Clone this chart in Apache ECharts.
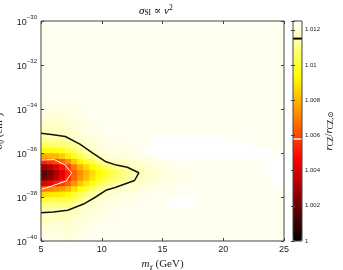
<!DOCTYPE html>
<html><head><meta charset="utf-8">
<script src="https://cdn.jsdelivr.net/npm/echarts@6/dist/echarts.min.js"></script>
<style>html,body{margin:0;padding:0;background:#fff}#c{width:343px;height:270px}</style>
</head><body><div id="c"></div>
<script>
// cell centres of the shaded map (m in GeV, log10 sigma)
const mCenters = [5.25,5.75,6.25,6.75,7.25,7.75,8.25,8.75,9.25,9.75,10.25,10.75,11.25,11.75,12.25,12.75,13.25,13.75,14.25,14.75,15.25,15.75,16.25,16.75,17.25,17.75,18.25,18.75,19.25,19.75,20.25,20.75,21.25,21.75,22.25,22.75,23.25,23.75,24.25,24.75];
const logSigmaCenters = [-39.875,-39.625,-39.375,-39.125,-38.875,-38.625,-38.375,-38.125,-37.875,-37.625,-37.375,-37.125,-36.875,-36.625,-36.375,-36.125,-35.875,-35.625,-35.375,-35.125,-34.875,-34.625,-34.375,-34.125,-33.875,-33.625,-33.375,-33.125,-32.875,-32.625,-32.375,-32.125,-31.875,-31.625,-31.375,-31.125,-30.875,-30.625,-30.375,-30.125];
// level of the flat pale area
const backgroundLevel = 1.0123;
// rows of the dark blob: [log10 sigma, values from m = 5.25 upward]
const blobRows = [
 [-33.875,[1.0122,1.0122,1.0122,1.0122,1.0122,1.0122]],
 [-34.125,[1.0121,1.0121,1.0121,1.0121,1.0122,1.0122,1.0122]],
 [-34.375,[1.0120,1.0120,1.0120,1.0120,1.0121,1.0121,1.0122]],
 [-34.625,[1.0119,1.0119,1.0119,1.0119,1.0120,1.0121,1.0121,1.0122,1.0122]],
 [-34.875,[1.0117,1.0118,1.0118,1.0118,1.0119,1.0120,1.0121,1.0122,1.0122,1.0122]],
 [-35.125,[1.0115,1.0116,1.0116,1.0116,1.0117,1.0119,1.0120,1.0121,1.0122,1.0122]],
 [-35.375,[1.0112,1.0113,1.0113,1.0113,1.0115,1.0117,1.0119,1.0120,1.0121,1.0122,1.0122,1.0122]],
 [-35.625,[1.0106,1.0107,1.0107,1.0108,1.0110,1.0113,1.0116,1.0118,1.0120,1.0121,1.0122,1.0122,1.0122,1.0122]],
 [-35.875,[1.0094,1.0096,1.0096,1.0098,1.0102,1.0107,1.0111,1.0115,1.0117,1.0120,1.0121,1.0121,1.0122,1.0122,1.0122,1.0122]],
 [-36.125,[1.0077,1.0080,1.0081,1.0085,1.0091,1.0097,1.0103,1.0108,1.0112,1.0116,1.0119,1.0120,1.0121,1.0121,1.0121,1.0122,1.0122,1.0122]],
 [-36.375,[1.0053,1.0057,1.0060,1.0066,1.0074,1.0084,1.0092,1.0099,1.0104,1.0109,1.0114,1.0116,1.0117,1.0118,1.0119,1.0120,1.0120,1.0121,1.0122,1.0122]],
 [-36.625,[1.0028,1.0033,1.0041,1.0050,1.0059,1.0070,1.0079,1.0087,1.0093,1.0099,1.0105,1.0108,1.0111,1.0113,1.0115,1.0117,1.0118,1.0119,1.0120,1.0121,1.0122,1.0122]],
 [-36.875,[1.0017,1.0023,1.0032,1.0043,1.0053,1.0064,1.0073,1.0080,1.0087,1.0093,1.0098,1.0102,1.0106,1.0109,1.0112,1.0114,1.0116,1.0118,1.0119,1.0120,1.0121,1.0121,1.0122,1.0122]],
 [-37.125,[1.0021,1.0027,1.0035,1.0045,1.0055,1.0065,1.0074,1.0082,1.0089,1.0095,1.0100,1.0104,1.0107,1.0110,1.0113,1.0115,1.0117,1.0118,1.0119,1.0120,1.0121,1.0121,1.0122,1.0122]],
 [-37.375,[1.0041,1.0045,1.0051,1.0058,1.0065,1.0074,1.0083,1.0090,1.0096,1.0102,1.0107,1.0110,1.0113,1.0115,1.0117,1.0118,1.0119,1.0120,1.0121,1.0121,1.0122,1.0122]],
 [-37.625,[1.0068,1.0071,1.0073,1.0077,1.0080,1.0088,1.0095,1.0101,1.0106,1.0110,1.0114,1.0116,1.0118,1.0119,1.0120,1.0120,1.0121,1.0121,1.0122,1.0122]],
 [-37.875,[1.0087,1.0089,1.0090,1.0091,1.0093,1.0099,1.0104,1.0109,1.0113,1.0116,1.0118,1.0119,1.0120,1.0121,1.0121,1.0122,1.0122,1.0122]],
 [-38.125,[1.0101,1.0103,1.0103,1.0103,1.0103,1.0107,1.0111,1.0115,1.0117,1.0119,1.0120,1.0121,1.0122,1.0122,1.0122,1.0122]],
 [-38.375,[1.0110,1.0111,1.0110,1.0110,1.0110,1.0113,1.0116,1.0118,1.0119,1.0121,1.0121,1.0122,1.0122,1.0122]],
 [-38.625,[1.0114,1.0115,1.0115,1.0115,1.0115,1.0116,1.0118,1.0120,1.0120,1.0121,1.0122,1.0122,1.0122]],
 [-38.875,[1.0117,1.0117,1.0117,1.0117,1.0117,1.0118,1.0120,1.0121,1.0121,1.0122,1.0122,1.0122]],
 [-39.125,[1.0118,1.0119,1.0119,1.0119,1.0119,1.0120,1.0120,1.0121,1.0122,1.0122]],
 [-39.375,[1.0120,1.0120,1.0120,1.0120,1.0120,1.0120,1.0121,1.0122,1.0122]],
 [-39.625,[1.0121,1.0121,1.0121,1.0121,1.0120,1.0121,1.0122,1.0122]],
 [-39.875,[1.0122,1.0122,1.0122,1.0121,1.0121,1.0122,1.0122]]
];
// saturated (white) patches: [log10 sigma row, first m, last m]
const whiteLevel = 1.0125;
const whiteCells = [
 [-35.375,14.25,20.25],[-35.625,14.25,22.25],[-35.875,13.75,23.75],[-36.125,14.75,24.75],
 [-36.375,23.25,24.75],[-36.625,23.75,24.75],[-36.875,23.75,24.75],[-37.125,24.25,24.75],
 [-37.375,24.25,24.75],[-38.125,15.75,17.75],[-38.375,15.75,17.25]
];
// contour lines [m, log10 sigma]
const blackContour = [[5,-35.1],[6,-35.17],[7,-35.25],[8.2,-35.6],[9.2,-35.98],[10.35,-36.4],[11.2,-36.55],[12.1,-36.65],[13.05,-36.9],[12.7,-37.25],[11.1,-37.57],[10.4,-37.68],[9.5,-38.0],[8.5,-38.32],[7.2,-38.6],[6,-38.68],[5,-38.72]];
const whiteContour = [[5,-36.32],[6.1,-36.3],[7,-36.55],[7.52,-36.91],[7.08,-37.27],[6,-37.48],[5,-37.66]];
const blackLevel = 1.0115, whiteContourLevel = 1.0058;
const xTicks = [5,10,15,20,25];
const yTickExponents = [-40,-38,-36,-34,-32,-30];
const colorbarTicks = [1,1.002,1.004,1.006,1.008,1.01,1.012];
const hotColors = ['#000000','#550000','#aa0000','#ff0000','#ff5500','#ffaa00','#ffff00','#ffff80','#ffffff'];

const grid = logSigmaCenters.map(() => mCenters.map(() => backgroundLevel));
blobRows.forEach(([L, vals]) => { const i = logSigmaCenters.indexOf(L); vals.forEach((v, j) => { grid[i][j] = v; }); });
whiteCells.forEach(([L, a, b]) => { const i = logSigmaCenters.indexOf(L); mCenters.forEach((m, j) => { if (m >= a && m <= b) grid[i][j] = whiteLevel; }); });
const heatData = [];
grid.forEach((row, i) => row.forEach((v, j) => heatData.push([j, i, v])));

const SANS = 'Liberation Sans, Arial, sans-serif';
const SERIF = 'Liberation Serif, DejaVu Serif, serif';
const axisCol = '#444';
const mathRich = {
  i: {fontFamily: SERIF, fontStyle: 'italic', fontSize: 11, color: '#222'},
  n: {fontFamily: SERIF, fontSize: 11, color: '#222'},
  sub: {fontFamily: SERIF, fontSize: 7.5, color: '#222', padding: [5, 0, 0, 0]},
  sup: {fontFamily: SERIF, fontSize: 7.5, color: '#222', padding: [0, 0, 6, 0]}
};

const chart = echarts.init(document.getElementById('c'), null, {renderer: 'canvas'});
chart.setOption({
  animation: false,
  backgroundColor: '#fff',
  grid: [
    {left: 41, top: 21, width: 243, height: 220, outerBoundsMode: 'none', containLabel: false,
     show: true, borderColor: axisCol, borderWidth: 1, backgroundColor: 'transparent', z: 10},
    {left: 293, top: 21, width: 9, height: 220, outerBoundsMode: 'none', containLabel: false,
     show: true, borderColor: axisCol, borderWidth: 1, backgroundColor: 'transparent', z: 10}
  ],
  xAxis: [
    {type: 'value', gridIndex: 0, position: 'bottom', min: 5, max: 25, interval: 5, z: 10,
     axisLine: {show: false}, splitLine: {show: false},
     axisTick: {show: true, inside: true, length: 3, lineStyle: {color: axisCol}},
     axisLabel: {fontFamily: SANS, fontSize: 9, color: '#222', margin: 4, formatter: v => xTicks.includes(v) ? String(v) : ''},
     name: '{i|m}{sub|χ}{n| (GeV)}', nameLocation: 'middle', nameGap: 15,
     nameTextStyle: {rich: mathRich}},
    {type: 'value', gridIndex: 0, position: 'top', min: 5, max: 25, interval: 5, z: 10,
     axisLine: {show: false}, splitLine: {show: false}, axisLabel: {show: false},
     axisTick: {show: true, inside: true, length: 3, lineStyle: {color: axisCol}}},
    {type: 'category', gridIndex: 0, position: 'bottom', data: mCenters, show: false},
    {type: 'value', gridIndex: 1, min: 0, max: 1, show: false}
  ],
  yAxis: [
    {type: 'value', gridIndex: 0, position: 'left', min: -40, max: -30, interval: 2, z: 10,
     axisLine: {show: false}, splitLine: {show: false},
     axisTick: {show: true, inside: true, length: 3, lineStyle: {color: axisCol}},
     axisLabel: {margin: 4, formatter: v => yTickExponents.includes(v) ? '{b|10}{s|' + (v < 0 ? '\u2212' : '') + Math.abs(v) + '}' : '',
       rich: {b: {fontFamily: SANS, fontSize: 9, color: '#222', padding: [4, 0, 0, 0]},
              s: {fontFamily: SANS, fontSize: 6, color: '#222', padding: [0, 0, 7, 0]}}},
     name: '{i|σ}{sub|0}{n| (cm}{sup|2}{n|)}', nameLocation: 'middle', nameGap: 31,
     nameTextStyle: {rich: mathRich}},
    {type: 'value', gridIndex: 0, position: 'right', min: -40, max: -30, interval: 2, z: 10,
     axisLine: {show: false}, splitLine: {show: false}, axisLabel: {show: false},
     axisTick: {show: true, inside: true, length: 3, lineStyle: {color: axisCol}}},
    {type: 'category', gridIndex: 0, position: 'left', data: logSigmaCenters, show: false},
    {type: 'value', gridIndex: 1, position: 'right', min: 1, max: 1.0125, interval: 0.002, z: 10,
     axisLine: {show: false}, splitLine: {show: false},
     axisTick: {show: true, inside: true, length: 2, lineStyle: {color: axisCol}},
     axisLabel: {fontFamily: SANS, fontSize: 6, color: '#222', margin: 3,
       formatter: v => { const t = colorbarTicks.find(c => Math.abs(c - v) < 1e-7); return t === undefined ? '' : String(t); }}},
    {type: 'value', gridIndex: 1, position: 'left', min: 1, max: 1.0125, interval: 0.002, z: 10,
     axisLine: {show: false}, splitLine: {show: false}, axisLabel: {show: false},
     axisTick: {show: true, inside: true, length: 2, lineStyle: {color: axisCol}}}
  ],
  visualMap: {
    type: 'continuous', min: 1, max: whiteLevel, seriesIndex: 0, dimension: 2,
    calculable: false, hoverLink: false, realtime: false, showLabel: false,
    left: 293, top: 21, itemWidth: 9, itemHeight: 220, padding: 0, z: 1,
    inRange: {color: hotColors}
  },
  series: [
    {type: 'heatmap', xAxisIndex: 2, yAxisIndex: 2, data: heatData, progressive: 0,
     itemStyle: {borderWidth: 0}, emphasis: {disabled: true}},
    {type: 'line', xAxisIndex: 0, yAxisIndex: 0, data: blackContour, symbol: 'none', z: 5,
     lineStyle: {color: '#111', width: 1.5}, silent: true},
    {type: 'line', xAxisIndex: 0, yAxisIndex: 0, data: whiteContour, symbol: 'none', z: 5,
     lineStyle: {color: '#fff', width: 1}, silent: true},
    {type: 'line', xAxisIndex: 3, yAxisIndex: 3, data: [[0, blackLevel], [1, blackLevel]], symbol: 'none', z: 5,
     lineStyle: {color: '#000', width: 2}, silent: true},
    {type: 'line', xAxisIndex: 3, yAxisIndex: 3, data: [[0, whiteContourLevel], [1, whiteContourLevel]], symbol: 'none', z: 5,
     lineStyle: {color: '#fff', width: 1.5}, silent: true}
  ],
  graphic: [
    {type: 'text', left: 139, top: 4, z: 20,
     style: {text: '{i|σ}{sub|SI}{n| ∝ }{i|v}{sup|2}', rich: mathRich}},
    {type: 'text', x: 329, y: 131, rotation: Math.PI / 2, z: 20,
     style: {text: '{i|r}{sub|CZ}{n|/}{i|r}{sub|CZ,⊙}', rich: mathRich, align: 'center', verticalAlign: 'middle'}}
  ]
});
</script></body></html>
